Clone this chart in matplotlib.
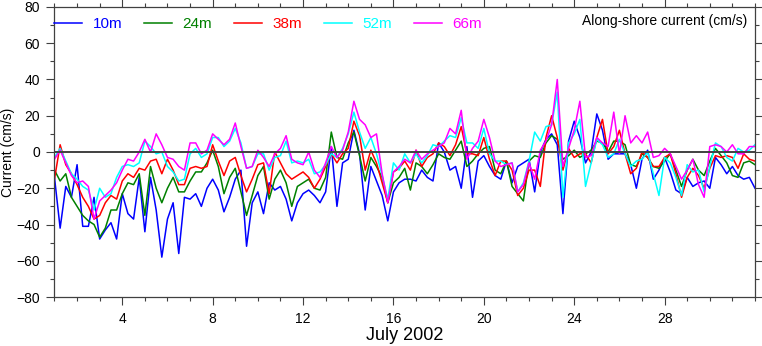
import numpy as np
import matplotlib
matplotlib.use('Agg')
import matplotlib.pyplot as plt
from matplotlib.ticker import MultipleLocator, FixedLocator

# Time axis: day of July 2002, sampled every 6 hours (1.0 = July 1 00:00)
days = np.arange(1.0, 32.001, 0.25)

# Along-shore current (cm/s) at each depth
cur_10m = [-14, -42, -19, -25, -7, -41, -41, -25, -48, -43, -39, -48, -23, -34, -37, -14,
           -44, -14, -32, -58, -37, -28, -56, -25, -26, -23,
           -30, -20, -15, -21, -33, -25, -15, -10, -52, -28, -22, -34, -17, -21, -19, -26,
           -38, -28, -23, -21, -24, -28, -22, 3,
           -30, -6, -4, 12, -1, -32, -8, -16, -24, -38, -22, -17, -15, -15, -16, -10,
           -14, -16, 5, 0, -10, -8, -20, 3, -25,
           -5, -2, -8, -13, -15, -5, -17, -8, -6, -4, -22, 0, 7, 10, 4, -34,
           6, 17, 8, -6, 0, 21, 12, -4, -1,
           -1, -1, -7, -20, -4, 1, -15, -10, -3, -11, -21, -23, -14, -19, -17, -16,
           -20, -3, -7, -12, -8, -13, -15, -14, -20]
cur_24m = [-10, -16, -12, -25, -30, -35, -38, -40, -47, -42, -32, -32, -23, -17, -18, -12,
           -35, -8, -20, -28, -20, -14, -22, -22, -16, -11,
           -11, -6, 1, -8, -23, -14, -9, -22, -35, -24, -13, -8, -26, -15, -10, -17,
           -30, -19, -17, -15, -20, -21, -14, 11,
           -3, -4, 5, 11, -2, -16, -3, -8, -14, -28, -17, -14, -9, -21, -6, -8,
           -12, -7, -1, -3, -4, 1, 6, -8, -5,
           -1, 2, 3, -10, -12, -5, -19, -23, -27, -5, -2, -3, 5, 9, 7, -4,
           -2, 1, -3, -1, 1, 6, 5, 0, 6,
           6, 4, -7, -8, -1, -3, -8, -9, -5, -1, -10, -19, -10, -4, -10, -13,
           -5, 2, -2, -6, -13, -14, -6, -5, -7]
cur_38m = [-15, 4, -7, -12, -18, -25, -30, -37, -35, -28, -24, -26, -16, -12, -14, -9,
           -10, -5, -4, -12, -4, -10, -18, -18, -9, -8,
           -9, -8, 4, -5, -13, -5, -3, -13, -22, -15, -7, -6, -23, 0, -6, -12,
           -15, -13, -11, -14, -20, -15, -8, -1,
           -6, -1, 2, 17, 9, -10, 1, -6, -17, -28, -11, -9, -5, -10, 1, -8,
           -3, -1, 5, 3, -2, 4, 14, -1, -1,
           -2, 8, -4, -13, -5, -5, -10, -24, -20, -10, -10, -19, 8, 20, 8, -10,
           2, -3, -1, -1, -6, 8, 18, -1, 3,
           12, -1, -12, -9, 0, -3, -8, -8, -3, -1, -12, -25, -14, -9, -13, -20,
           -9, -2, -3, -2, -3, -9, -1, -4, -5]
cur_52m = [-3, 2, -5, -12, -15, -19, -21, -32, -20, -25, -23, -14, -8, -7, -8, -6,
           6, 3, -1, 0, -8, -11, -16, -15, -1, 2,
           -3, -1, 8, 8, 3, 6, 13, 5, -9, -8, -1, -1, -10, -3, -2, 6,
           -6, -5, -6, -4, -12, -11, -7, -1,
           -3, 2, 10, 22, 11, 2, 8, -1, -13, -26, -6, -10, -1, -6, -1, -6,
           -2, 4, 3, 6, 9, 8, 19, 5, 5,
           2, 13, -1, -5, -5, -7, -6, -22, -17, -5, 11, 6, 14, 15, 33, -25,
           5, 10, 18, -19, -6, 7, 4, -3, -1,
           7, -1, -8, -5, -4, 0, -12, -24, -3, -6, -14, -24, -7, -11, -10, -22,
           -8, 5, 3, -3, -5, 2, 0, 1, 4]
cur_66m = [-4, 1, -6, -13, -17, -16, -19, -37, -27, -24, -21, -17, -10, -4, -5, 0,
           7, 0, 10, 4, -3, -4, -8, -10, 5, 5,
           -1, 1, 10, 7, 4, 7, 16, 3, -9, -8, 1, -3, -8, -1, 2, 9,
           -4, -6, -7, 0, -10, -14, -6, 3,
           -3, 1, 11, 28, 18, 15, 8, 10, -12, -28, -11, -8, -4, -6, 1, -4,
           -1, 1, 3, 5, 13, 10, 23, -4, 2,
           6, 18, 8, -5, -8, -7, -6, -22, -18, -6, -15, 1, 6, 15, 40, -8,
           2, 12, 28, -3, -2, 8, 5, 3, 22,
           -1, 20, 5, 9, 5, 11, -3, -2, 2, -1, -8, -15, -10, -4, -18, -25,
           3, 4, 3, 0, 4, -1, -1, 3, 3]

labels = ['10m', '24m', '38m', '52m', '66m']
colors = ['#0000ff', '#008000', '#ff0000', '#00ffff', '#ff00ff']
series = [cur_10m, cur_24m, cur_38m, cur_52m, cur_66m]
xticks = [4, 8, 12, 16, 20, 24, 28]

plt.rcParams['font.family'] = ['Liberation Sans', 'DejaVu Sans']

fig = plt.figure(figsize=(7.62, 3.46), dpi=100)
ax = fig.add_axes([0.0715, 0.1416, 0.9193, 0.8382])

# zero line sits on top of the curves, as in the reference
ax.axhline(0, color='#404040', lw=1.4, zorder=3)
lines = []
for vals, lab, col in zip(series, labels, colors):
    ln, = ax.plot(days, vals, color=col, lw=1.1, label=lab, zorder=2)
    lines.append(ln)

ax.set_xlim(1, 32)
ax.set_ylim(-80, 80)
ax.xaxis.set_major_locator(FixedLocator(xticks))
ax.xaxis.set_minor_locator(MultipleLocator(1))
ax.yaxis.set_major_locator(MultipleLocator(20))
ax.yaxis.set_minor_locator(MultipleLocator(10))
ax.tick_params(which='both', direction='out', top=True, right=True, color='#404040')
ax.tick_params(which='major', length=5.5, width=0.8)
ax.tick_params(which='minor', length=3, width=0.8)
ax.tick_params(axis='y', labelsize=10, pad=5)
ax.tick_params(axis='x', labelsize=10, pad=5)
for s in ax.spines.values():
    s.set_color('#404040')
    s.set_linewidth(0.9)

ax.set_ylabel('Current (cm/s)', fontsize=10)
ax.yaxis.set_label_coords(-0.057, 0.5)
ax.set_xlabel('July 2002', fontsize=13, labelpad=1)

leg = ax.legend(handles=lines, ncol=5, loc='upper left', bbox_to_anchor=(0, 0.966),
                frameon=False, fontsize=11, handlelength=1.8, handletextpad=0.7,
                columnspacing=1.45, borderaxespad=0, borderpad=0, labelcolor='linecolor')
ax.text(0.989, 0.952, 'Along-shore current (cm/s)', transform=ax.transAxes,
        ha='right', va='center', fontsize=10)

fig.savefig('out.png', dpi=100)
